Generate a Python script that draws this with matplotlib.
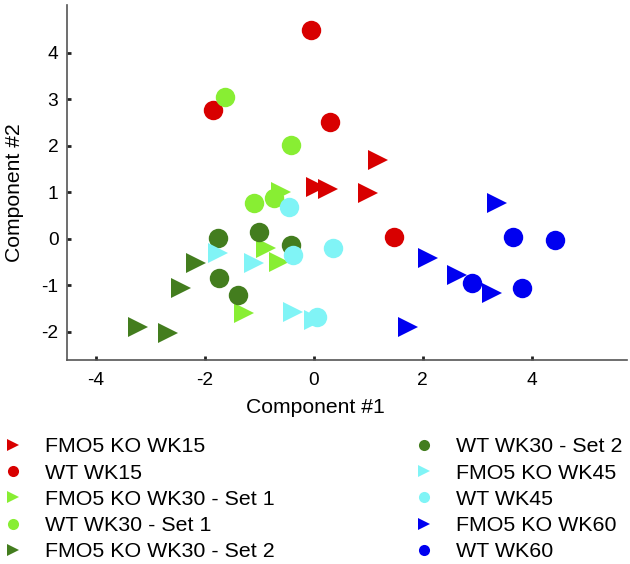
import matplotlib
matplotlib.use("Agg")
import matplotlib.pyplot as plt
from matplotlib.lines import Line2D

plt.rcParams["font.family"] = ["Liberation Sans", "DejaVu Sans"]

# ── Data ─────────────────────────────────────────────────────────────────────
labels = [
    "FMO5 KO WK15", "WT WK15",
    "FMO5 KO WK30 - Set 1", "WT WK30 - Set 1",
    "FMO5 KO WK30 - Set 2", "WT WK30 - Set 2",
    "FMO5 KO WK45", "WT WK45",
    "FMO5 KO WK60", "WT WK60",
]
colors = ["#d80000", "#d80000", "#88ee33", "#88ee33", "#437d1e", "#437d1e",
          "#80f4f6", "#80f4f6", "#0000f0", "#0000f0"]
markers = [">", "o"] * 5

ko15_x = [1.19, 0.04, 0.26, 1.00]
ko15_y = [1.70, 1.12, 1.08, 0.99]
wt15_x = [-0.05, -1.85, 0.31, 1.47]
wt15_y = [4.49, 2.77, 2.52, 0.04]
ko30a_x = [-0.60, -0.88, -0.64, -1.28]
ko30a_y = [1.00, -0.20, -0.49, -1.60]
wt30a_x = [-1.63, -0.42, -1.10, -0.73]
wt30a_y = [3.05, 2.02, 0.77, 0.88]
ko30b_x = [-2.16, -2.44, -3.22, -2.67]
ko30b_y = [-0.52, -1.05, -1.89, -2.02]
wt30b_x = [-1.76, -1.00, -0.42, -1.74, -1.39]
wt30b_y = [0.02, 0.15, -0.13, -0.84, -1.20]
ko45_x = [-1.76, -1.10, -0.37, 0.00]
ko45_y = [-0.30, -0.52, -1.57, -1.74]
wt45_x = [-0.46, -0.37, 0.35, 0.07]
wt45_y = [0.69, -0.34, -0.20, -1.67]
ko60_x = [3.37, 2.10, 2.64, 3.28, 1.74]
ko60_y = [0.77, -0.41, -0.77, -1.16, -1.90]
wt60_x = [3.66, 4.43, 2.91, 3.83]
wt60_y = [0.05, -0.02, -0.95, -1.05]

series_x = [ko15_x, wt15_x, ko30a_x, wt30a_x, ko30b_x,
            wt30b_x, ko45_x, wt45_x, ko60_x, wt60_x]
series_y = [ko15_y, wt15_y, ko30a_y, wt30a_y, ko30b_y,
            wt30b_y, ko45_y, wt45_y, ko60_y, wt60_y]

x_ticks = [-4, -2, 0, 2, 4]
y_ticks = [-2, -1, 0, 1, 2, 3, 4]

# ── Figure ───────────────────────────────────────────────────────────────────
fig = plt.figure(figsize=(6.3, 5.64), dpi=100)
ax = fig.add_axes([0.106, 0.362, 0.889, 0.629])

for xs, ys, c, m in zip(series_x, series_y, colors, markers):
    ax.plot(xs, ys, linestyle="none", marker=m, markersize=14,
            color=c, markeredgewidth=0)

ax.set_xlim(-4.53, 5.75)
ax.set_ylim(-2.6, 5.03)
ax.set_xticks(x_ticks)
ax.set_yticks(y_ticks)
ax.set_xticklabels([str(t) for t in x_ticks])
ax.set_yticklabels([str(t) for t in y_ticks])

ax.spines["top"].set_visible(False)
ax.spines["right"].set_visible(False)
for side in ("left", "bottom"):
    ax.spines[side].set_color("#555555")
    ax.spines[side].set_linewidth(1.2)
ax.tick_params(direction="in", length=3, width=2, color="#222222",
               labelsize=13.8)
ax.tick_params(axis="x", pad=9)
ax.tick_params(axis="y", pad=6)

ax.set_xlabel("Component #1", fontsize=15.2)
ax.set_ylabel("Component #2", fontsize=15.2)
ax.xaxis.set_label_coords((316 - 67) / 560, -0.108)
ax.yaxis.set_label_coords(-0.077, 0.47)

# ── Legend (two columns below the plot) ─────────────────────────────────────
handles = [Line2D([], [], linestyle="none", marker=m, color=c,
                  markersize=8, markeredgewidth=0)
           for c, m in zip(colors, markers)]
fig.legend(handles, labels, ncol=2, loc="upper left",
           bbox_to_anchor=(0.0, 0.2245), frameon=False, fontsize=15.4,
           borderpad=0, borderaxespad=0,
           handlelength=1.2, handletextpad=0.9, columnspacing=6.4,
           labelspacing=0.34)

fig.savefig("out.png", dpi=100)
